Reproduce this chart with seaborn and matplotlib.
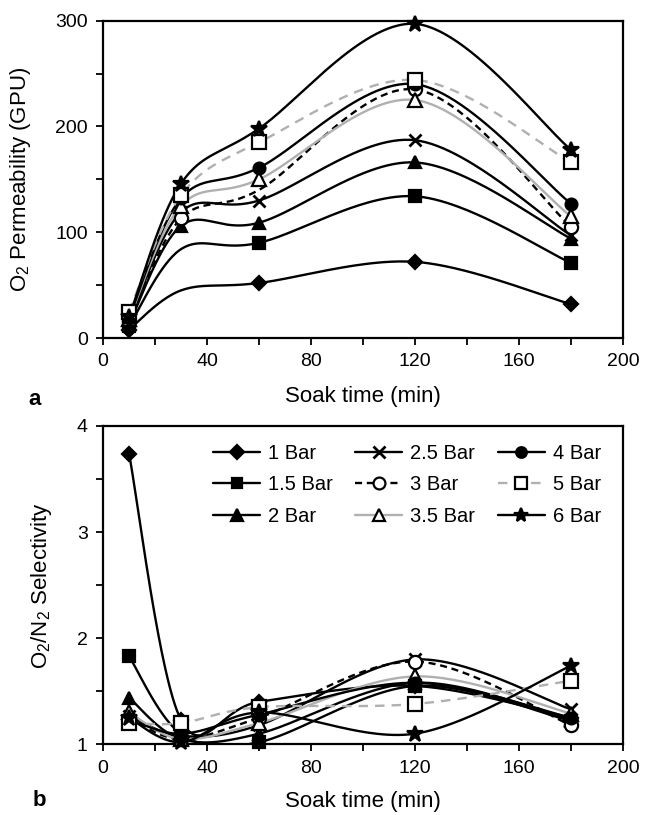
import numpy as np
import pandas as pd
import matplotlib
matplotlib.use("Agg")
import matplotlib.pyplot as plt
from matplotlib.lines import Line2D
import seaborn as sns

# Soak times (min)
soak_time = [10, 30, 60, 120, 180]

# Feed pressures
pressures = ["1 Bar", "1.5 Bar", "2 Bar", "2.5 Bar", "3 Bar",
             "3.5 Bar", "4 Bar", "5 Bar", "6 Bar"]

# O2 permeability (GPU)
perm_1 = [8, 45, 52, 72, 32]
perm_1_5 = [11, 84, 90, 134, 71]
perm_2 = [13, 106, 109, 166, 94]
perm_2_5 = [15, 119, 130, 187, 97]
perm_3 = [16, 113, 140, 235, 105]
perm_3_5 = [18, 125, 150, 225, 115]
perm_4 = [19, 132, 161, 240, 127]
perm_5 = [25, 135, 185, 244, 166]
perm_6 = [20, 146, 198, 297, 178]

# O2/N2 selectivity
sel_1 = [3.74, 1.23, 1.40, 1.55, 1.25]
sel_1_5 = [1.83, 1.10, 1.02, 1.55, 1.22]
sel_2 = [1.44, 1.05, 1.10, 1.58, 1.23]
sel_2_5 = [1.27, 1.08, 1.18, 1.80, 1.33]
sel_3 = [1.25, 1.05, 1.25, 1.78, 1.18]
sel_3_5 = [1.30, 1.05, 1.20, 1.64, 1.29]
sel_4 = [1.24, 1.10, 1.28, 1.58, 1.25]
sel_5 = [1.20, 1.20, 1.35, 1.38, 1.60]
sel_6 = [1.25, 1.02, 1.30, 1.10, 1.74]

permeability = [perm_1, perm_1_5, perm_2, perm_2_5, perm_3,
                perm_3_5, perm_4, perm_5, perm_6]
selectivity = [sel_1, sel_1_5, sel_2, sel_2_5, sel_3,
               sel_3_5, sel_4, sel_5, sel_6]

GREY = "#b0b0b0"
styles = {
    "1 Bar":   dict(color="black", ls="-", marker="D", ms=7.5, mfc="black"),
    "1.5 Bar": dict(color="black", ls="-", marker="s", ms=8.5, mfc="black"),
    "2 Bar":   dict(color="black", ls="-", marker="^", ms=9, mfc="black"),
    "2.5 Bar": dict(color="black", ls="-", marker="x", ms=9, mfc="black"),
    "3 Bar":   dict(color="black", ls=(0, (3, 2)), marker="o", ms=9.5, mfc="white"),
    "3.5 Bar": dict(color=GREY, ls="-", marker="^", ms=10, mfc="white"),
    "4 Bar":   dict(color="black", ls="-", marker="o", ms=8.5, mfc="black"),
    "5 Bar":   dict(color=GREY, ls=(0, (4, 3)), marker="s", ms=10, mfc="white"),
    "6 Bar":   dict(color="black", ls="-", marker="*", ms=12, mfc="black"),
}


def smooth_curve(x, y, n=60):
    """Bezier smoothing through every point (spreadsheet-style smoothed line)."""
    P = np.column_stack([x, y]).astype(float)
    pieces = []
    for i in range(len(P) - 1):
        p0 = P[i - 1] if i > 0 else P[i]
        p1, p2 = P[i], P[i + 1]
        p3 = P[i + 2] if i + 2 < len(P) else P[i + 1]
        c1 = p1 + (p2 - p0) / 6.0
        c2 = p2 - (p3 - p1) / 6.0
        t = np.linspace(0, 1, n)[:, None]
        seg = ((1 - t) ** 3) * p1 + 3 * ((1 - t) ** 2) * t * c1 \
            + 3 * (1 - t) * t ** 2 * c2 + t ** 3 * p2
        pieces.append(seg if i == 0 else seg[1:])
    return np.vstack(pieces)


sns.set_theme(style="ticks")
plt.rcParams["font.family"] = ["Liberation Sans", "DejaVu Sans"]
plt.rcParams["mathtext.fontset"] = "custom"
plt.rcParams["mathtext.rm"] = "Liberation Sans"
plt.rcParams["mathtext.it"] = "Liberation Sans"
for key in ["text.color", "axes.labelcolor", "xtick.color", "ytick.color",
            "axes.edgecolor"]:
    plt.rcParams[key] = "black"

TICK_FS = 14
LABEL_FS = 16
LEGEND_FS = 14.5

fig = plt.figure(figsize=(6.45, 8.15), dpi=100)
ax_top = fig.add_axes([103 / 645, 1 - 338 / 815, 520 / 645, 317.3 / 815])
ax_bot = fig.add_axes([103 / 645, 1 - 744.3 / 815, 520 / 645, 318.3 / 815])


def draw_series(ax, values, hide_markers=None):
    hide_markers = hide_markers or {}
    for name, vals in zip(pressures, values):
        st = styles[name]
        curve = smooth_curve(soak_time, vals)
        df = pd.DataFrame({"t": curve[:, 0], "v": curve[:, 1]})
        sns.lineplot(data=df, x="t", y="v", ax=ax, sort=False, estimator=None,
                     color=st["color"], linestyle=st["ls"], linewidth=1.7,
                     legend=False)
        idx = [i for i in range(len(soak_time)) if i not in hide_markers.get(name, [])]
        ax.plot([soak_time[i] for i in idx], [vals[i] for i in idx],
                linestyle="none", marker=st["marker"], markersize=st["ms"],
                markerfacecolor=st["mfc"], markeredgecolor="black",
                markeredgewidth=1.6 if st["marker"] != "x" else 2.0,
                clip_on=False, zorder=3)


draw_series(ax_top, permeability,
            hide_markers={"1 Bar": [1], "1.5 Bar": [1], "3 Bar": [2]})
draw_series(ax_bot, selectivity)


def style_axes(ax, ylim, yticks, yminor, ylabel, ylabel_x, xlabel_y):
    ax.set_xlim(0, 200)
    ax.set_ylim(*ylim)
    ax.set_xticks(range(0, 201, 40))
    ax.set_xticks(range(0, 201, 20), minor=True)
    ax.set_yticks(yticks)
    ax.set_yticks(yminor, minor=True)
    ax.tick_params(which="both", direction="out", length=5, width=1.3,
                   labelsize=TICK_FS, colors="black", pad=6)
    ax.tick_params(which="minor", labelbottom=False, labelleft=False)
    for sp in ax.spines.values():
        sp.set_visible(True)
        sp.set_linewidth(1.6)
        sp.set_color("black")
    ax.set_xlabel("Soak time (min)", fontsize=LABEL_FS)
    ax.set_ylabel(ylabel, fontsize=LABEL_FS)
    ax.yaxis.set_label_coords(ylabel_x, 0.5)
    ax.xaxis.set_label_coords(0.5, xlabel_y)
    ax.grid(False)


style_axes(ax_top, (0, 300), [0, 100, 200, 300], np.arange(0, 301, 50),
           r"O$_{2}$ Permeability (GPU)", -0.135, -0.152)
style_axes(ax_bot, (1, 4), [1, 2, 3, 4], np.arange(1, 4.01, 0.5),
           r"O$_{2}$/N$_{2}$ Selectivity", -0.094, -0.148)
ax_top.set_yticklabels(["0", "100", "200", "300"])
ax_bot.set_yticklabels(["1", "2", "3", "4"])

handles = []
for name in pressures:
    st = styles[name]
    handles.append(Line2D([], [], color=st["color"], linestyle=st["ls"],
                          linewidth=1.7, marker=st["marker"],
                          markersize=st["ms"] * 0.9, markerfacecolor=st["mfc"],
                          markeredgecolor="black",
                          markeredgewidth=1.6 if st["marker"] != "x" else 2.0))
ax_bot.legend(handles, pressures, ncol=3, frameon=False, fontsize=LEGEND_FS,
              loc="upper left", bbox_to_anchor=((213 - 103) / 520, 0.944),
              borderpad=0, borderaxespad=0, handlelength=2.34,
              handletextpad=0.4, columnspacing=1.1, labelspacing=0.62)

fig.text(28 / 645, 1 - 405 / 815, "a", fontsize=16, fontweight="bold",
         va="baseline", ha="left")
fig.text(33 / 645, 1 - 806 / 815, "b", fontsize=16, fontweight="bold",
         va="baseline", ha="left")

fig.savefig("out.png", dpi=100, facecolor="white")
